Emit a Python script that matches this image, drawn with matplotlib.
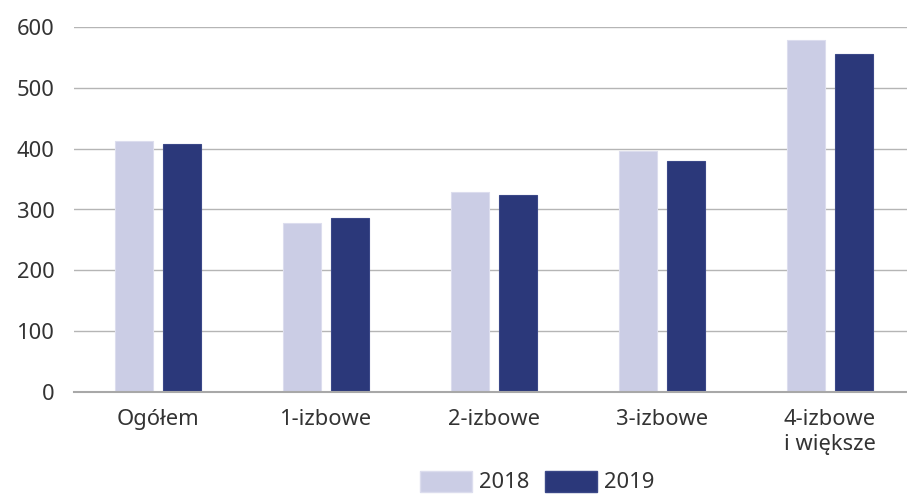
import matplotlib
matplotlib.use("Agg")
import matplotlib.pyplot as plt
import numpy as np
from matplotlib.patches import Patch

categories = ["Ogółem", "1-izbowe", "2-izbowe", "3-izbowe", "4-izbowe\ni większe"]
series_names = ["2018", "2019"]
values_2018 = [413, 277, 328, 396, 578]
values_2019 = [408, 286, 324, 380, 556]
yticks = [0, 100, 200, 300, 400, 500, 600]

c2018 = "#CBCDE5"
c2019 = "#2B387A"
text_color = "#333333"

plt.rcParams['font.family'] = ['Noto Sans', 'DejaVu Sans']

W, H = 907, 495
fig = plt.figure(figsize=(W / 100, H / 100), dpi=100)
left_px, right_px, top_px, bottom_px = 74, 914, 27, 392
ax = fig.add_axes([left_px / W, (H - bottom_px) / H, (right_px - left_px) / W, (bottom_px - top_px) / H])

x = np.arange(len(categories))
bw = 0.222
off = 0.143
ax.bar(x - off, values_2018, bw, color=c2018, edgecolor="#DCDDEE", linewidth=0.8, zorder=3)
ax.bar(x + off, values_2019, bw, color=c2019, edgecolor="#3B4888", linewidth=0.8, zorder=3)

ax.set_xlim(-0.5, len(categories) - 0.5)
ax.set_ylim(0, 600)
ax.set_yticks(yticks)
ax.set_yticklabels([str(t) for t in yticks])
ax.set_xticks(x)
ax.set_xticklabels(categories, linespacing=1.3)

ax.grid(axis='y', color="#B5B5B5", linewidth=1.0, zorder=0)
ax.set_axisbelow(True)
for s in ["top", "right", "left"]:
    ax.spines[s].set_visible(False)
ax.spines["bottom"].set_color("#A8A8A8")
ax.spines["bottom"].set_linewidth(1.5)
ax.spines["bottom"].set_zorder(4)

ax.tick_params(axis='both', length=0, labelsize=15.8, labelcolor=text_color)
ax.tick_params(axis='y', pad=14)
ax.tick_params(axis='x', pad=12)
for lbl in ax.get_xticklabels():
    lbl.set_verticalalignment('top')

handles = [Patch(facecolor=c2018, edgecolor="#DCDDEE"), Patch(facecolor=c2019, edgecolor="#3B4888")]
leg = fig.legend(handles, series_names, loc='center', bbox_to_anchor=(537 / W, 13 / H),
                 ncol=2, frameon=False, fontsize=15.8, handlelength=2.4, handleheight=1.1,
                 handletextpad=0.3, columnspacing=0.7, borderpad=0, borderaxespad=0)
for t in leg.get_texts():
    t.set_color(text_color)

fig.savefig("out.png", dpi=100)
